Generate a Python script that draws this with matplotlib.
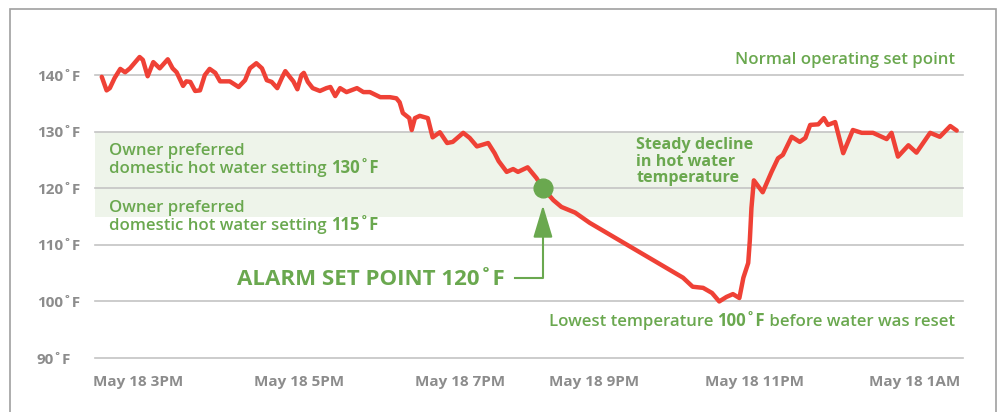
#!/usr/bin/env python3

import matplotlib

matplotlib.use("Agg")
import matplotlib.pyplot as plt
import matplotlib.transforms as mtransforms
from matplotlib.patches import Rectangle

# hours after 3PM, water temperature in F
hours = [
    -0.45, -0.39, -0.35, -0.29, -0.22, -0.16, -0.10, 0.02, 0.06, 0.12,
    0.19, 0.27, 0.37, 0.43, 0.48, 0.56, 0.60, 0.65, 0.71, 0.77,
    0.83, 0.89, 0.96, 1.02, 1.14, 1.25, 1.33, 1.39, 1.47, 1.54,
    1.60, 1.66, 1.73, 1.79, 1.83, 1.89, 1.93, 1.98, 2.03, 2.06,
    2.11, 2.17, 2.26, 2.34, 2.39, 2.45, 2.51, 2.59, 2.72, 2.80,
    2.88, 3.01, 3.13, 3.21, 3.25, 3.29, 3.37, 3.40, 3.44, 3.50,
    3.60, 3.66, 3.75, 3.84, 3.91, 4.04, 4.12, 4.21, 4.35, 4.43,
    4.48, 4.58, 4.66, 4.72, 4.84, 4.95, 5.03, 5.16, 5.26, 5.43,
    5.61, 6.77, 6.89, 7.02, 7.13, 7.22, 7.31, 7.39, 7.47, 7.52,
    7.58, 7.60, 7.62, 7.65, 7.76, 7.87, 7.95, 8.01, 8.12, 8.22,
    8.29, 8.35, 8.45, 8.52, 8.57, 8.66, 8.76, 8.88, 8.99, 9.13,
    9.30, 9.36, 9.44, 9.57, 9.67, 9.84, 9.96, 10.09, 10.17,
]
temps = [
    139.7, 137.3, 137.7, 139.5, 141.1, 140.5, 141.2, 143.2, 142.7, 139.8,
    142.3, 141.2, 142.8, 141.2, 140.5, 138.1, 138.9, 138.8, 137.2, 137.3,
    140.0, 141.1, 140.4, 138.9, 138.9, 137.9, 139.1, 141.2, 142.1, 141.2,
    139.1, 138.8, 137.7, 139.6, 140.7, 139.6, 138.9, 137.5, 140.0, 140.4,
    138.8, 137.7, 137.2, 137.7, 137.9, 136.3, 137.7, 137.0, 137.7, 137.0,
    137.0, 136.1, 136.1, 135.9, 135.2, 133.3, 132.4, 130.3, 132.4, 132.8,
    132.4, 129.0, 129.9, 128.0, 128.2, 129.8, 128.9, 127.4, 128.0, 126.2,
    124.8, 122.9, 123.4, 122.9, 123.7, 121.8, 120.0, 117.9, 116.7, 115.7,
    113.9, 104.2, 102.6, 102.4, 101.5, 100.0, 100.8, 101.3, 100.6, 104.2,
    106.8, 110.8, 116.5, 121.4, 119.3, 122.9, 125.3, 125.9, 129.1, 128.2,
    128.9, 131.2, 131.3, 132.4, 131.2, 131.7, 126.2, 130.3, 129.8, 129.8,
    128.7, 129.8, 125.6, 127.6, 126.3, 129.8, 129.1, 131.0, 130.2,
]

tick_hours = [0, 2, 4, 5.66, 7.66, 9.65]
tick_labels = ["May 18 3PM", "May 18 5PM", "May 18 7PM",
               "May 18 9PM", "May 18 11PM", "May 18 1AM"]
temp_ticks = [90, 100, 110, 120, 130, 140]
preferred_band = (115, 130)
alarm_hour = 5.03
alarm_temp = 120

RED = "#ef4136"
GREEN = "#6aa84f"
GRAY = "#8c8c8c"
GRID = "#c4c4c4"
BAND = "#eef4ea"
BODY = 12.1

plt.rcParams["font.family"] = ["Open Sans", "DejaVu Sans"]


def put_parts(ax, x, y, parts, ha="left", size=BODY, color=GREEN):
    # draw mixed-weight text on one baseline
    fig = ax.figure
    renderer = fig.canvas.get_renderer()
    artists = [ax.text(x, y, s, fontsize=size, fontweight=w, color=color,
                       va="baseline", ha="left", zorder=2) for s, w in parts]
    widths = [a.get_window_extent(renderer).width for a in artists]
    shift = -sum(widths) if ha == "right" else 0.0
    for a, w in zip(artists, widths):
        a.set_transform(mtransforms.offset_copy(ax.transData, fig=fig,
                                                x=shift, y=0, units="dots"))
        shift += w


def main() -> None:
    fig = plt.figure(figsize=(10, 4.12), dpi=100)
    ax = fig.add_axes([0.095, 0.131, 0.868, 0.824])
    ax.set_xlim(-0.534, 10.248)
    ax.set_ylim(90, 150)

    fig.add_artist(Rectangle((0.010, -0.05), 0.986, 1.027, transform=fig.transFigure,
                             fill=False, edgecolor="#a0a0a0", lw=1.2))

    ax.axhspan(*preferred_band, color=BAND, lw=0, zorder=0)
    for v in temp_ticks:
        ax.axhline(v, color=GRID, lw=1.2, zorder=1, clip_on=False)

    ax.plot(hours, temps, color=RED, lw=3.2, solid_capstyle="round",
            solid_joinstyle="round", zorder=3)
    ax.plot([alarm_hour], [alarm_temp], "o", color=GREEN, ms=13.5, zorder=4)

    for s in ax.spines.values():
        s.set_visible(False)
    ax.set_yticks(temp_ticks)
    ax.set_yticklabels([f"{v}˚F" for v in temp_ticks])
    ax.set_xticks(tick_hours)
    ax.set_xticklabels(tick_labels)
    ax.tick_params(axis="y", length=0, pad=41.8, labelsize=11, labelcolor=GRAY)
    ax.tick_params(axis="x", length=0, pad=12, labelsize=11, labelcolor=GRAY)
    for lbl in ax.get_yticklabels():
        lbl.set_ha("left")
        lbl.set_fontweight("bold")
    for lbl in ax.get_xticklabels():
        lbl.set_fontweight("bold")

    put_parts(ax, 10.15, 141.9, [("Normal operating set point", "semibold")], ha="right")
    put_parts(ax, -0.36, 125.9, [("Owner preferred", "semibold")])
    put_parts(ax, -0.36, 122.7, [("domestic hot water setting ", "semibold"), ("130˚F", "bold")])
    put_parts(ax, -0.36, 115.8, [("Owner preferred", "semibold")])
    put_parts(ax, -0.36, 112.6, [("domestic hot water setting ", "semibold"), ("115˚F", "bold")])
    # multiline baseline sits on the last line
    ax.text(6.19, 121.1, "Steady decline\nin hot water\ntemperature", fontsize=11.6,
            fontweight="bold", color=GREEN, linespacing=1.04, va="baseline",
            ha="left", zorder=2)
    put_parts(ax, 10.15, 95.7, [("Lowest temperature ", "semibold"), ("100˚F", "bold"),
                                (" before water was reset", "semibold")], ha="right")
    put_parts(ax, 1.23, 102.9, [("ALARM SET POINT 120˚F", "bold")], size=16)

    # alarm arrow
    ax.plot([4.68, alarm_hour, alarm_hour], [104.1, 104.1, 112.0],
            color=GREEN, lw=1.5, zorder=2)
    ax.annotate("", xy=(alarm_hour, 117.0), xytext=(alarm_hour, 111.5),
                arrowprops=dict(arrowstyle="-|>,head_length=1.0,head_width=0.3",
                                mutation_scale=20, color=GREEN, lw=1.5,
                                shrinkA=0, shrinkB=0), zorder=2)

    fig.savefig("out.png", dpi=100)
    plt.close(fig)


if __name__ == "__main__":
    main()
